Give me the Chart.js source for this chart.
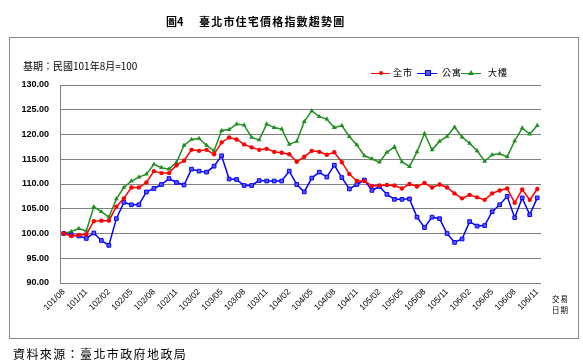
<!DOCTYPE html>
<html>
<head>
<meta charset="utf-8">
<script src="https://cdn.jsdelivr.net/npm/chart.js@4/dist/chart.umd.min.js"></script>
<style>
body { margin: 0; background: #fff; width: 583px; height: 363px; position: relative; overflow: hidden;
       font-family: "Noto Sans CJK TC", sans-serif; color: #000; }
#box { position: absolute; left: 9px; top: 37px; width: 570px; height: 302px; border: 1px solid #888; box-sizing: border-box; }
canvas { position: absolute; left: 0; top: 0; }
.t { position: absolute; white-space: nowrap; }
.ln { position: absolute; height: 1.5px; }
.mk { position: absolute; }
</style>
</head>
<body>
<div id="box"></div>
<canvas id="chart" width="583" height="363"></canvas>

<div class="t" style="left:166px;top:15px;font-size:11px;line-height:12px;font-weight:700;">圖4</div>
<div class="t" style="left:199px;top:15px;font-size:11px;line-height:12px;font-weight:700;letter-spacing:1.2px;">臺北市住宅價格指數趨勢圖</div>
<div class="t" style="left:23px;top:60px;font-size:10px;line-height:12px;">基期：民國101年8月=100</div>

<!-- legend -->
<div class="ln" style="left:371px;top:72.5px;width:19px;background:#ff0000;"></div>
<div class="mk" style="left:378.5px;top:71px;width:4px;height:4px;border-radius:50%;background:#ff0000;"></div>
<div class="t" style="left:393px;top:68px;font-size:9px;line-height:10px;letter-spacing:1px;">全市</div>
<div class="ln" style="left:417px;top:72.5px;width:20px;background:#0000ff;"></div>
<div class="mk" style="left:424.5px;top:70px;width:4px;height:4px;border:1px solid #0000ff;background:#5a5aff;"></div>
<div class="t" style="left:442px;top:68px;font-size:9px;line-height:10px;letter-spacing:1px;">公寓</div>
<div class="ln" style="left:461px;top:72.5px;width:20px;background:#238f23;"></div>
<div class="mk" style="left:468px;top:69.5px;width:0;height:0;border-left:3px solid transparent;border-right:3px solid transparent;border-bottom:5px solid #238f23;"></div>
<div class="t" style="left:488px;top:68px;font-size:9px;line-height:10px;letter-spacing:1px;">大樓</div>

<div class="t" style="left:552px;top:293px;font-size:7.5px;line-height:11px;letter-spacing:1px;">交易<br>日期</div>
<div class="t" style="left:13px;top:347px;font-size:12px;line-height:14px;letter-spacing:1.4px;">資料來源：臺北市政府地政局</div>

<script>
// 交易日期 (monthly, 民國年/月)
const months = [
    '101/08', '101/09', '101/10', '101/11', '101/12',
    '102/01', '102/02', '102/03', '102/04', '102/05', '102/06', '102/07', '102/08', '102/09', '102/10', '102/11', '102/12',
    '103/01', '103/02', '103/03', '103/04', '103/05', '103/06', '103/07', '103/08', '103/09', '103/10', '103/11', '103/12',
    '104/01', '104/02', '104/03', '104/04', '104/05', '104/06', '104/07', '104/08', '104/09', '104/10', '104/11', '104/12',
    '105/01', '105/02', '105/03', '105/04', '105/05', '105/06', '105/07', '105/08', '105/09', '105/10', '105/11', '105/12',
    '106/01', '106/02', '106/03', '106/04', '106/05', '106/06', '106/07', '106/08', '106/09', '106/10', '106/11'
];

// 全市
const cityIndex = [
    100, 99.5, 99.7, 99.8, 102.5, 102.6, 102.6, 105.4, 107.1, 109.3, 109.3, 110.3, 112.6, 112.2, 112.2, 113.8,
    114.7, 116.9, 116.7, 116.9, 116.0, 118.4, 119.4, 119.0, 118.0, 117.4, 116.9, 117.1, 116.5, 116.3, 116.0, 114.5,
    115.5, 116.7, 116.5, 115.9, 116.4, 114.4, 112.0, 110.6, 110.6, 109.6, 109.7, 109.8, 109.7, 109.1, 110.0, 109.5,
    110.2, 109.3, 109.9, 109.3, 108.1, 107.1, 107.8, 107.3, 106.8, 108.1, 108.7, 109.1, 106.2, 108.9, 106.8, 109.0
];

// 公寓
const apartmentIndex = [
    100, 99.7, 99.5, 99.0, 100.1, 98.6, 97.6, 103.0, 106.3, 105.8, 105.8, 108.4, 109.1, 109.9, 111.1, 110.3,
    109.8, 113.0, 112.6, 112.4, 113.6, 115.7, 111.0, 110.9, 109.7, 109.7, 110.7, 110.6, 110.6, 110.6, 112.6, 109.9,
    108.4, 111.2, 112.4, 111.4, 113.8, 111.3, 109.0, 109.9, 110.8, 108.7, 109.5, 107.9, 106.9, 106.9, 107.0, 103.3,
    101.2, 103.3, 103.0, 100.0, 98.2, 98.9, 102.4, 101.5, 101.6, 104.4, 105.8, 107.5, 103.2, 107.2, 103.8, 107.2
];

// 大樓
const buildingIndex = [
    100, 100.4, 101.0, 100.5, 105.4, 104.4, 103.3, 107.0, 109.3, 110.6, 111.4, 112.0, 114.0, 113.3, 113.0, 114.4,
    117.8, 119.0, 119.2, 117.8, 116.7, 120.8, 121.0, 122.1, 121.9, 119.4, 118.9, 122.1, 121.4, 121.1, 118.0, 118.6,
    122.6, 124.8, 123.6, 123.1, 121.4, 121.8, 119.6, 117.9, 115.7, 115.1, 114.4, 116.4, 117.5, 114.5, 113.5, 116.5,
    120.2, 116.9, 118.6, 119.6, 121.5, 119.5, 118.2, 116.7, 114.6, 115.9, 116.1, 115.5, 118.7, 121.3, 120.1, 121.8
];

const ctx = document.getElementById('chart').getContext('2d');

new Chart(ctx, {
    type: 'line',
    data: {
        labels: months,
        datasets: [
            {
                label: '全市',
                data: cityIndex,
                borderColor: '#ff0000',
                backgroundColor: '#ff0000',
                borderWidth: 1.5,
                pointStyle: 'circle',
                pointRadius: 2.2,
                pointBorderWidth: 0,
                tension: 0
            },
            {
                label: '公寓',
                data: apartmentIndex,
                borderColor: '#0000ff',
                backgroundColor: '#5a5aff',
                pointBorderColor: '#0000ff',
                borderWidth: 1.5,
                pointStyle: 'rect',
                pointRadius: 2.6,
                pointBorderWidth: 1,
                tension: 0
            },
            {
                label: '大樓',
                data: buildingIndex,
                borderColor: '#238f23',
                backgroundColor: '#238f23',
                borderWidth: 1.5,
                pointStyle: 'triangle',
                pointRadius: 2.8,
                pointBorderWidth: 0,
                tension: 0
            }
        ]
    },
    options: {
        responsive: false,
        animation: false,
        layout: {
            padding: { left: 0, top: 85, right: 42, bottom: 0 }
        },
        plugins: {
            legend: { display: false },
            tooltip: { enabled: false }
        },
        scales: {
            x: {
                offset: true,
                grid: { display: false, drawTicks: false },
                border: { display: false },
                ticks: {
                    autoSkip: false,
                    maxRotation: 45,
                    minRotation: 45,
                    padding: 4,
                    color: '#000',
                    font: { family: 'Liberation Sans', size: 8.5 },
                    callback: function (value, index) {
                        return index % 3 === 0 ? this.getLabelForValue(value) : '';
                    }
                },
                afterFit: function (scale) { scale.height = 80; }
            },
            y: {
                min: 90,
                max: 130,
                grid: { color: '#808080', lineWidth: 1, drawTicks: false },
                border: { color: '#808080' },
                ticks: {
                    stepSize: 5,
                    padding: 11,
                    color: '#000',
                    font: { family: 'Liberation Sans', size: 9, weight: 'bold' },
                    callback: function (value) { return value.toFixed(2); }
                },
                afterFit: function (scale) { scale.width = 60; }
            }
        }
    }
});
</script>
</body>
</html>
